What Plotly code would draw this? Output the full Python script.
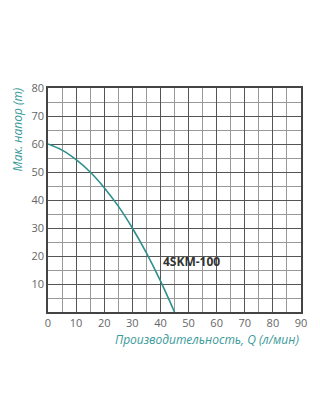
import plotly.graph_objects as go

q = [0, 5, 10, 15, 20, 25, 30, 35, 40, 45]
head = [60, 57.8, 54.4, 50, 44.4, 37.8, 30, 21.1, 11.1, 0]
x_ticks = [0, 10, 20, 30, 40, 50, 60, 70, 80, 90]
y_ticks = [10, 20, 30, 40, 50, 60, 70, 80]
model = "4SKM-100"
x_title = "Производительность, Q (л/мин)"
y_title = "Мак. напор (m)"

teal = "#2f8f8c"
title_teal = "#3a9a9a"
fig = go.Figure()
fig.add_trace(go.Scatter(x=q, y=head, mode="lines", line=dict(color=teal, width=1.6, shape="spline"),
                         showlegend=False, hoverinfo="skip"))
fig.add_annotation(x=40.2, y=17.9, text="<b>" + model + "</b>", showarrow=False, xanchor="left",
                   font=dict(family="Open Sans", size=12, color="#333333"))
fig.add_annotation(xref="paper", yref="paper", x=1.0, y=-0.075, xanchor="right", yanchor="top",
                   text="<i>" + x_title + "</i>", showarrow=False,
                   font=dict(family="Open Sans", size=12, color=title_teal))
fig.add_annotation(xref="paper", yref="paper", x=-0.12, y=1.01, xanchor="center", yanchor="top",
                   text="<i>" + y_title + "</i>", showarrow=False, textangle=-90,
                   font=dict(family="Open Sans", size=12, color=title_teal))

axis_common = dict(showline=True, linecolor="#444444", linewidth=1.5, mirror=True, ticks="",
                   gridcolor="#555555", gridwidth=1, zeroline=False,
                   tickfont=dict(family="Open Sans", size=11, color="#666666"))
fig.update_xaxes(range=[0, 90], tickvals=x_ticks, **axis_common,
                 minor=dict(dtick=5, showgrid=True, gridcolor="#999999", gridwidth=1))
fig.update_yaxes(range=[0, 80], tickvals=y_ticks, **axis_common,
                 minor=dict(dtick=5, showgrid=True, gridcolor="#999999", gridwidth=1))
fig.update_layout(width=320, height=420, margin=dict(l=48, r=19, t=88, b=108),
                  paper_bgcolor="white", plot_bgcolor="white")
fig.write_html("out.html")
